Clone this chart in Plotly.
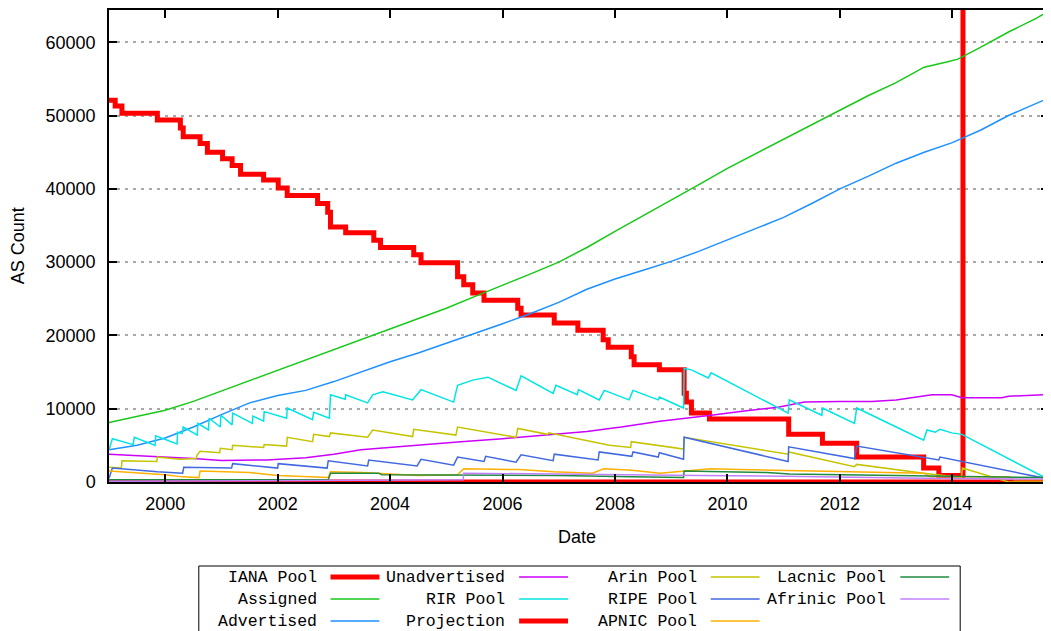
import plotly.graph_objects as go

# ---------------- data (decimal year, AS count) ----------------
x_ticks = [2000, 2002, 2004, 2006, 2008, 2010, 2012, 2014]
x_tick_labels = ["2000", "2002", "2004", "2006", "2008", "2010", "2012", "2014"]
y_ticks = [0, 10000, 20000, 30000, 40000, 50000, 60000]
y_tick_labels = ["0", "10000", "20000", "30000", "40000", "50000", "60000"]

iana_pool = [(1999.00, 52100), (1999.11, 51300), (1999.23, 50300), (1999.86, 49400), (2000.27, 48300),
             (2000.32, 47100), (2000.62, 46200), (2000.75, 45000), (2001.02, 44100), (2001.19, 43200),
             (2001.34, 42000), (2001.75, 41200), (2002.01, 40100), (2002.17, 39100), (2002.71, 38000),
             (2002.89, 36800), (2002.94, 34800), (2003.21, 34000), (2003.71, 33000), (2003.83, 32000),
             (2004.42, 31000), (2004.55, 29900), (2005.20, 28000), (2005.31, 26900), (2005.47, 25800),
             (2005.67, 24800), (2006.27, 23700), (2006.33, 22800), (2006.92, 21700), (2007.34, 20700),
             (2007.79, 19400), (2007.88, 18400), (2008.29, 17100), (2008.34, 16000), (2008.79, 15300),
             (2009.23, 12100), (2009.27, 10900), (2009.36, 9400), (2009.68, 8600), (2011.09, 6500),
             (2011.69, 5300), (2012.30, 3400), (2013.49, 1900), (2013.76, 900), (2014.19, 95000),
             (2015.72, 95000)]

assigned = [(1999.0, 8100), (1999.5, 8900), (2000.0, 9800), (2000.5, 11000), (2001.0, 12400),
            (2001.5, 13900), (2002.0, 15300), (2002.5, 16600), (2003.0, 18000), (2003.5, 19400),
            (2004.0, 20800), (2004.5, 22200), (2005.0, 23700), (2005.5, 25300), (2006.0, 26800),
            (2006.5, 28400), (2007.0, 30000), (2007.5, 32000), (2008.0, 34200), (2008.5, 36300),
            (2009.0, 38500), (2009.5, 40600), (2010.0, 42800), (2010.5, 44800), (2011.0, 46800),
            (2011.5, 48800), (2012.0, 50700), (2012.5, 52700), (2013.0, 54500), (2013.5, 56600),
            (2013.9, 57300), (2014.1, 57700), (2014.5, 59300), (2015.0, 61400), (2015.5, 63300),
            (2015.72, 64300)]

advertised = [(1999.0, 4400), (1999.5, 5000), (2000.0, 6000), (2000.5, 7500), (2001.0, 9200),
              (2001.5, 10800), (2002.0, 11800), (2002.5, 12500), (2003.0, 13700), (2003.5, 15100),
              (2004.0, 16400), (2004.5, 17600), (2005.0, 18900), (2005.5, 20200), (2006.0, 21600),
              (2006.5, 23000), (2007.0, 24500), (2007.5, 26300), (2008.0, 27700), (2008.5, 28900),
              (2009.0, 30100), (2009.5, 31500), (2010.0, 33000), (2010.5, 34600), (2011.0, 36100),
              (2011.5, 38000), (2012.0, 40000), (2012.5, 41700), (2013.0, 43500), (2013.5, 45000),
              (2014.0, 46300), (2014.5, 48000), (2015.0, 50000), (2015.72, 52400)]

unadvertised = [(1999.00, 3800), (1999.85, 3500), (2000.50, 3200), (2001.00, 2950), (2001.80, 3000),
                (2002.50, 3300), (2003.00, 3800), (2003.48, 4400), (2004.40, 5000), (2005.26, 5500),
                (2006.00, 5900), (2006.80, 6400), (2007.50, 6900), (2008.11, 7500), (2008.80, 8300),
                (2009.71, 9100), (2010.30, 9700), (2010.90, 10200), (2011.37, 10900), (2012.00, 11000),
                (2012.57, 11000), (2013.00, 11200), (2013.40, 11600), (2013.64, 11900), (2013.99, 11900),
                (2014.17, 11500), (2014.88, 11500), (2015.00, 11700), (2015.65, 11900), (2015.72, 11900)]

rir_pool = [(1999.00, 4400), (1999.06, 5900), (1999.43, 5100), (1999.45, 6100), (1999.82, 5000),
            (1999.83, 6300), (2000.21, 5200), (2000.22, 6800), (2000.30, 6600), (2000.32, 7500),
            (2000.57, 6400), (2000.58, 8000), (2000.77, 7100), (2000.78, 8700), (2000.98, 7500),
            (2000.99, 9100), (2001.19, 7800), (2001.20, 9400), (2001.55, 8000), (2001.56, 9000),
            (2001.75, 8300), (2001.76, 9600), (2002.16, 8700), (2002.17, 10100), (2002.62, 8500),
            (2002.64, 9500), (2002.92, 8700), (2002.94, 11900), (2003.20, 11300), (2003.21, 11900),
            (2003.60, 10800), (2003.69, 11900), (2003.87, 12300), (2004.40, 11200), (2004.55, 12600),
            (2005.13, 10900), (2005.20, 13200), (2005.31, 13500), (2005.47, 13900), (2005.74, 14300),
            (2006.24, 12500), (2006.33, 14500), (2006.90, 12100), (2006.95, 13200), (2007.33, 11900),
            (2007.35, 12600), (2007.72, 11200), (2007.81, 12500), (2008.25, 11200), (2008.32, 12500),
            (2008.77, 11200), (2008.79, 11600), (2009.22, 10100), (2009.23, 15500), (2009.36, 15300),
            (2009.66, 14200), (2009.71, 14900), (2011.08, 9400), (2011.10, 11200), (2011.68, 9100),
            (2011.69, 10100), (2012.26, 8000), (2012.30, 10100), (2013.49, 5700), (2013.55, 7100),
            (2013.70, 6800), (2013.78, 7200), (2013.99, 6700), (2014.17, 6500), (2015.72, 300)]

projection = [(1999.00, 0), (2015.72, 0)]

arin_pool = [(1999.00, 2000), (1999.22, 1900), (1999.23, 2900), (1999.85, 2800), (1999.86, 3400),
             (2000.26, 3100), (2000.55, 3200), (2000.57, 3700), (2000.62, 4200), (2000.97, 4000),
             (2000.98, 4600), (2001.19, 4400), (2001.20, 5000), (2001.75, 4700), (2001.76, 5100),
             (2002.16, 4900), (2002.17, 6100), (2002.62, 5500), (2002.64, 6500), (2002.92, 6200),
             (2002.94, 6700), (2003.60, 6100), (2003.69, 7100), (2004.40, 6200), (2004.42, 7200),
             (2005.17, 6400), (2005.20, 7500), (2006.24, 6100), (2006.27, 7300), (2006.80, 6500),
             (2006.82, 6700), (2007.90, 5000), (2008.28, 4700), (2008.29, 5500), (2009.22, 4500),
             (2009.23, 6100), (2011.08, 3800), (2011.09, 4100), (2012.26, 2100), (2012.30, 2400),
             (2013.49, 1200), (2014.16, 600), (2014.18, 1900), (2015.00, 0), (2015.72, 0)]

ripe_pool = [(1999.00, 500), (1999.06, 1900), (1999.86, 1400), (2000.31, 1200), (2000.33, 2000),
             (2001.18, 1900), (2001.20, 2500), (2002.00, 1900), (2002.01, 2500), (2002.88, 1900),
             (2002.90, 2900), (2003.60, 2200), (2003.62, 3000), (2004.48, 2200), (2004.55, 3100),
             (2005.13, 2300), (2005.20, 3400), (2005.67, 2800), (2005.70, 3500), (2006.24, 2700),
             (2006.33, 3700), (2006.90, 2900), (2006.92, 3800), (2007.70, 3000), (2007.72, 4100),
             (2008.30, 3500), (2008.32, 4100), (2008.77, 3400), (2008.79, 4000), (2009.22, 3100),
             (2009.23, 6100), (2011.08, 2800), (2011.09, 4800), (2012.26, 3200), (2012.30, 4900),
             (2013.76, 3000), (2013.78, 3400), (2015.50, 700), (2015.72, 400)]

apnic_pool = [(1999.00, 1500), (1999.50, 1200), (2000.00, 1000), (2000.30, 700), (2000.60, 600),
              (2000.62, 1500), (2001.50, 1300), (2002.00, 900), (2002.90, 600), (2002.94, 1400),
              (2003.50, 1300), (2004.50, 900), (2005.20, 1000), (2005.31, 1800), (2006.30, 1700),
              (2006.90, 1400), (2007.60, 1200), (2007.80, 1800), (2008.30, 1600), (2008.80, 1200),
              (2009.70, 1800), (2010.20, 1700), (2011.70, 1500), (2013.50, 1200), (2013.60, 700),
              (2015.00, 700), (2015.10, 300), (2015.72, 300)]

lacnic_pool = [(1999.00, 300), (2002.90, 300), (2002.94, 1200), (2003.80, 1200), (2003.85, 1000),
               (2007.00, 900), (2008.30, 700), (2009.22, 600), (2009.23, 1500), (2010.70, 1300),
               (2011.10, 1100), (2013.00, 900), (2015.72, 600)]

afrinic_pool = [(1999.00, 100), (2005.30, 300), (2005.31, 1200), (2007.30, 1100), (2008.00, 1000),
                (2009.50, 900), (2011.00, 800), (2013.50, 500), (2015.72, 400)]

# ---------------- styling ----------------
series = [
    ("IANA Pool", iana_pool, "#ff0000", 5, "hv"),
    ("Assigned", assigned, "#18c818", 1.5, "linear"),
    ("Advertised", advertised, "#1e90ff", 1.5, "linear"),
    ("Unadvertised", unadvertised, "#cc00ff", 1.5, "linear"),
    ("RIR Pool", rir_pool, "#00e4e4", 1.5, "linear"),
    ("Projection", projection, "#ff0000", 5, "linear"),
    ("Arin Pool", arin_pool, "#c4c400", 1.5, "linear"),
    ("RIPE Pool", ripe_pool, "#4169e1", 1.5, "linear"),
    ("APNIC Pool", apnic_pool, "#ffb000", 1.5, "linear"),
    ("Lacnic Pool", lacnic_pool, "#1e8b3e", 1.5, "linear"),
    ("Afrinic Pool", afrinic_pool, "#c080ff", 1.5, "linear"),
]

# page offset: the browser puts the figure 8px in from the top-left corner
OFF = 8
W, H = 1051 - OFF, 631 - OFF
# plot area in page pixels
L, R, T, B = 109, 1051, 10, 482


def px(x):
    return (x - L) / (R - L)


def py(y):
    return (B - y) / (B - T)


fig = go.Figure()
for name, data, color, width, shape in series:
    xs = [p[0] for p in data]
    ys = [p[1] for p in data]
    fig.add_trace(go.Scatter(x=xs, y=ys, mode="lines", name=name,
                             line=dict(color=color, width=width, shape=shape),
                             showlegend=False))

tick_font = dict(family="Liberation Sans, Arial, sans-serif", size=18, color="#000000")
legend_font = dict(family="Liberation Mono, DejaVu Sans Mono, monospace", size=16.5, color="#000000")

fig.update_layout(
    width=W, height=H,
    margin=dict(l=L - OFF, r=(1051 - OFF) - (R - OFF), t=T - OFF, b=(631 - OFF) - (B - OFF), pad=0),
    paper_bgcolor="white", plot_bgcolor="white",
    xaxis=dict(range=[1999.0, 2015.72], tickmode="array", tickvals=x_ticks, ticktext=x_tick_labels,
               showgrid=False, zeroline=False, showline=True, linecolor="#000000", linewidth=1.5,
               mirror="ticks", ticks="inside", ticklen=8, tickwidth=1.5, tickcolor="#000000",
               tickfont=tick_font, ticklabelstandoff=5),
    yaxis=dict(range=[0, 64400], tickmode="array", tickvals=y_ticks, ticktext=y_tick_labels,
               showgrid=True, gridcolor="#a8a8a8", gridwidth=1.5, griddash="3px,5px",
               zeroline=False, showline=True, linecolor="#000000", linewidth=1.5,
               mirror="ticks", ticks="inside", ticklen=8, tickwidth=1.5, tickcolor="#000000",
               tickfont=tick_font, ticklabelstandoff=8),
)

annotations = [
    dict(text="Date", x=px(578), y=py(537), xref="paper", yref="paper", showarrow=False,
         xanchor="center", yanchor="middle", font=tick_font),
    dict(text="AS Count", x=px(18), y=py(246), xref="paper", yref="paper", showarrow=False,
         xanchor="center", yanchor="middle", textangle=-90, font=tick_font),
]
shapes = [dict(type="rect", xref="paper", yref="paper", x0=px(199), x1=px(962), y0=py(566), y1=py(650),
               line=dict(color="#000000", width=1), fillcolor="rgba(0,0,0,0)")]

col_right = [319, 508, 700, 890]
row_y = [577, 599, 621]
for i, (name, data, color, width, shape) in enumerate(series):
    col, row = divmod(i, 3)
    annotations.append(dict(text=name, x=px(col_right[col]), y=py(row_y[row]), xref="paper", yref="paper",
                            showarrow=False, xanchor="right", yanchor="middle", font=legend_font))
    shapes.append(dict(type="line", xref="paper", yref="paper",
                       x0=px(col_right[col] + 12), x1=px(col_right[col] + 61),
                       y0=py(row_y[row]), y1=py(row_y[row]),
                       line=dict(color=color, width=width)))

fig.update_layout(annotations=annotations, shapes=shapes)
fig.write_html("out.html")
